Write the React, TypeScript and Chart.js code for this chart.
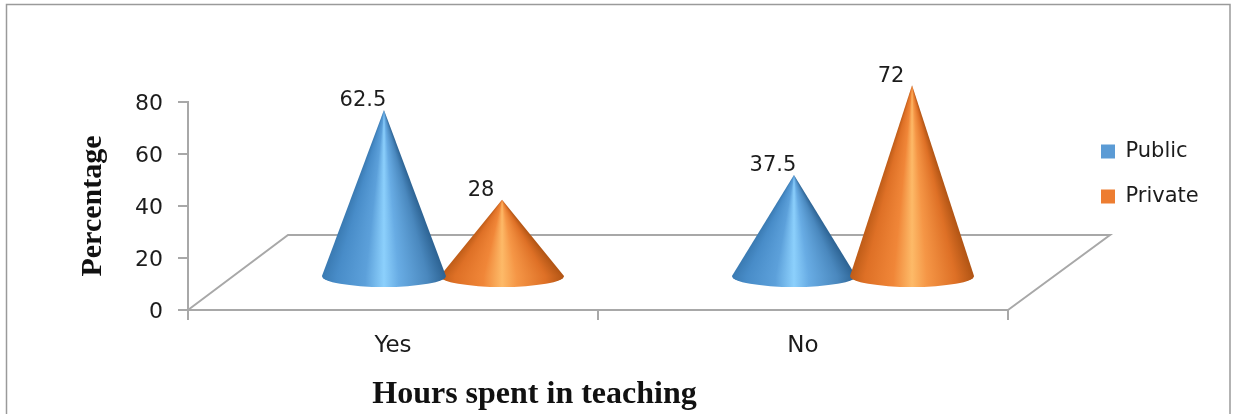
import React, { useEffect, useRef } from "react";
import { Chart, registerables } from "chart.js";

Chart.register(...registerables);

const categories = ["Yes", "No"];
const publicValues = [62.5, 37.5];
const privateValues = [28, 72];
const seriesNames = ["Public", "Private"];
const swatches = ["#5B9BD5", "#ED7D31"];
const yMax = 80;
const yStep = 20;
const xTitle = "Hours spent in teaching";
const yTitle = "Percentage";

type Stop = [number, string];
const shades: Stop[][] = [
  [
    [0, "#3a7ab2"],
    [0.12, "#488cc8"],
    [0.35, "#5ca0da"],
    [0.5, "#8cd0fc"],
    [0.62, "#68ace4"],
    [0.85, "#4a88be"],
    [1, "#2c6292"],
  ],
  [
    [0, "#be5c18"],
    [0.12, "#de7026"],
    [0.35, "#f08638"],
    [0.5, "#fdba68"],
    [0.62, "#f59646"],
    [0.85, "#de7026"],
    [1, "#b05414"],
  ],
];

const DEPTH_X = 50;
const TIP_LIFT = 37.5;
const BASE_LIFT = 34;
const BASE_RY = 11;
const WIDEN = 1.05;
const FLOOR = "#a8a8a8";
const TEXT = "#1c1c1c";

function drawCone(ctx: CanvasRenderingContext2D, cx: number, tipY: number, baseY: number, halfW: number, stops: Stop[]) {
  ctx.save();
  ctx.beginPath();
  ctx.moveTo(cx, tipY);
  ctx.lineTo(cx + halfW, baseY);
  ctx.ellipse(cx, baseY, halfW, BASE_RY, 0, 0, Math.PI);
  ctx.closePath();
  ctx.clip();
  const end = baseY + BASE_RY + 1;
  for (let y = Math.floor(tipY); y < end; y++) {
    const w = Math.max(0.5, Math.min(1, (y + 0.5 - tipY) / (baseY - tipY)) * halfW);
    const g = ctx.createLinearGradient(cx - w, 0, cx + w, 0);
    stops.forEach(([p, c]) => g.addColorStop(p, c));
    ctx.fillStyle = g;
    ctx.fillRect(cx - w - 1, y, 2 * w + 2, 1);
  }
  ctx.restore();
}

const conePlugin = {
  id: "cones",
  afterLayout(chart: any) {
    const legend = chart.legend;
    legend.left = 1077;
    legend.right = 1237;
    legend.top = 117;
    legend.bottom = 414;
    const title = chart.titleBlock;
    title.left = 234;
    title.right = 835;
    title.top = 376;
  },
  beforeDraw(chart: any) {
    const { ctx, width, height } = chart;
    ctx.save();
    ctx.strokeStyle = "#9a9a9a";
    ctx.lineWidth = 1.5;
    ctx.beginPath();
    ctx.moveTo(6.5, height);
    ctx.lineTo(6.5, 4.5);
    ctx.lineTo(width - 7, 4.5);
    ctx.lineTo(width - 7, height);
    ctx.stroke();
    ctx.restore();
  },
  beforeDatasetsDraw(chart: any) {
    const { ctx, chartArea: a } = chart;
    ctx.save();
    ctx.strokeStyle = FLOOR;
    ctx.lineWidth = 2;
    ctx.beginPath();
    ctx.moveTo(a.left, a.bottom);
    ctx.lineTo(a.left + DEPTH_X * 2, a.bottom - TIP_LIFT * 2);
    ctx.lineTo(a.right + DEPTH_X * 2 + 2, a.bottom - TIP_LIFT * 2);
    ctx.lineTo(a.right, a.bottom);
    ctx.stroke();
    ctx.restore();
  },
  beforeDatasetDraw() {
    return false;
  },
  afterDatasetsDraw(chart: any) {
    const { ctx, scales } = chart;
    const zero = scales.y.getPixelForValue(0);
    ctx.save();
    categories.forEach((_, c) => {
      const items = chart.data.datasets.map((d: any, s: number) => ({
        s,
        value: d.data[c] as number,
        el: chart.getDatasetMeta(s).data[c],
      }));
      items.sort((p: any, q: any) => p.value - q.value);
      items.forEach(({ s, el }: any) => {
        drawCone(ctx, el.x + DEPTH_X, el.y - TIP_LIFT, zero - BASE_LIFT, (el.width / 2) * WIDEN, shades[s]);
      });
      items.forEach(({ value, el }: any) => {
        ctx.fillStyle = TEXT;
        ctx.font = "21px 'DejaVu Sans'";
        ctx.textAlign = "center";
        ctx.textBaseline = "middle";
        ctx.fillText(String(value), el.x + DEPTH_X - 21, el.y - TIP_LIFT - 9);
      });
    });
    ctx.restore();
  },
};

export default function App() {
  const ref = useRef<HTMLCanvasElement>(null);
  useEffect(() => {
    const chart = new Chart(ref.current!, {
      type: "bar",
      data: {
        labels: categories,
        datasets: [
          { label: seriesNames[0], data: publicValues, backgroundColor: swatches[0] },
          { label: seriesNames[1], data: privateValues, backgroundColor: swatches[1] },
        ],
      },
      plugins: [conePlugin],
      options: {
        animation: false,
        responsive: false,
        events: [],
        layout: { padding: { top: 102, left: 0, right: 229, bottom: 0 } },
        datasets: { bar: { categoryPercentage: 0.576, barPercentage: 1 } },
        plugins: {
          tooltip: { enabled: false },
          title: {
            display: true,
            text: xTitle,
            position: "bottom",
            padding: 0,
            color: "#111111",
            font: { family: "'Liberation Serif'", size: 32, weight: "bold" },
          },
          legend: {
            display: true,
            position: "chartArea",
            align: "start",
            labels: {
              boxWidth: 14,
              boxHeight: 14,
              padding: 24,
              color: TEXT,
              font: { family: "'DejaVu Sans'", size: 21 },
            },
          },
        },
        scales: {
          x: {
            afterFit: (s: any) => {
              s.height = 65.6;
            },
            grid: { drawOnChartArea: false, drawTicks: true, tickLength: 10, tickColor: FLOOR, lineWidth: 2 },
            border: { color: FLOOR, width: 2 },
            ticks: { padding: 12, color: TEXT, maxRotation: 0, font: { family: "'DejaVu Sans'", size: 23 } },
          },
          y: {
            min: 0,
            max: yMax,
            afterFit: (s: any) => {
              s.width = 188;
            },
            grid: { drawOnChartArea: false, drawTicks: true, tickLength: 10, tickColor: FLOOR, lineWidth: 2 },
            border: { color: FLOOR, width: 2 },
            ticks: { stepSize: yStep, padding: 15, labelOffset: 2, color: TEXT, font: { family: "'DejaVu Sans'", size: 22 } },
            title: {
              display: true,
              text: yTitle,
              color: "#111111",
              padding: { top: 75, bottom: 0 },
              font: { family: "'Liberation Serif'", size: 30, weight: "bold" },
            },
          },
        },
      },
    } as any);
    return () => chart.destroy();
  }, []);
  return (
    <div style={{ position: "absolute", left: 0, top: 0, width: 1237, height: 414, background: "#fff" }}>
      <canvas ref={ref} width={1237} height={414} style={{ display: "block" }} />
    </div>
  );
}
